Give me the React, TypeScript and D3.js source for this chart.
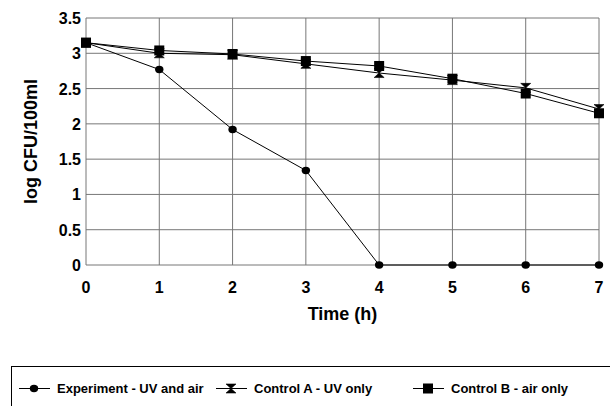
import React from 'react';
import * as d3 from 'd3';

const hours = [0, 1, 2, 3, 4, 5, 6, 7];
const experiment = [3.15, 2.77, 1.92, 1.34, 0, 0, 0, 0];
const controlA = [3.15, 3.0, 2.98, 2.85, 2.72, 2.62, 2.51, 2.21];
const controlB = [3.15, 3.04, 2.99, 2.89, 2.82, 2.64, 2.43, 2.15];
const yTicks = [0, 0.5, 1, 1.5, 2, 2.5, 3, 3.5];
const seriesNames = ['Experiment - UV and air', 'Control A - UV only', 'Control B - air only'];

const font = 'Arial, "Liberation Sans", sans-serif';

const Marker = ({ kind, x, y }: { kind: string; x: number; y: number }) => {
    if (kind === 'circle') return <ellipse cx={x} cy={y} rx={4.2} ry={3.7} fill="#000" />;
    if (kind === 'square') return <rect x={x - 5} y={y - 5} width={10} height={10} fill="#000" />;
    return (
        <path
            d={`M${x - 5},${y - 4.5} L${x + 5},${y - 4.5} L${x},${y} Z M${x - 5},${y + 4.5} L${x + 5},${y + 4.5} L${x},${y} Z`}
            fill="#000"
            stroke="#000"
            strokeWidth={0.6}
        />
    );
};

export default function App() {
    const margin = { left: 86, right: 11, top: 18, bottom: 141 };
    const W = 610, H = 406;

    const x = d3.scaleLinear().domain([0, 7]).range([margin.left, W - margin.right]);
    const y = d3.scaleLinear().domain([0, 3.5]).range([H - margin.bottom, margin.top]);

    const line = d3.line<number>()
        .x((_, i) => x(hours[i]))
        .y(d => y(d));

    const series = [
        { name: seriesNames[0], values: experiment, kind: 'circle' },
        { name: seriesNames[1], values: controlA, kind: 'hourglass' },
        { name: seriesNames[2], values: controlB, kind: 'square' },
    ];

    // legend entries are spaced evenly, like the original
    const legendStart = 19;
    const legendStep = 197;

    return (
        <svg width={W} height={H} style={{ position: 'absolute', left: 0, top: 0, background: '#fff' }} fontFamily={font}>
            {/* grid */}
            {yTicks.map(t => (
                <line key={'h' + t} x1={x(0)} x2={x(7)} y1={y(t)} y2={y(t)} stroke="#777" strokeWidth={1} />
            ))}
            {hours.map(h => (
                <line key={'v' + h} x1={x(h)} x2={x(h)} y1={y(0)} y2={y(3.5)} stroke="#777" strokeWidth={1} />
            ))}

            {/* ticks */}
            {yTicks.map(t => (
                <text key={'yt' + t} x={x(0) - 5} y={y(t) + 6} textAnchor="end" fontSize={16} fontWeight="bold">{t}</text>
            ))}
            {hours.map(h => (
                <text key={'xt' + h} x={x(h)} y={y(0) + 28} textAnchor="middle" fontSize={16} fontWeight="bold">{h}</text>
            ))}

            <text x={(x(0) + x(7)) / 2} y={320} textAnchor="middle" fontSize={18} fontWeight="bold">Time (h)</text>
            <text transform={`translate(37,${(y(0) + y(3.5)) / 2}) rotate(-90)`} textAnchor="middle" fontSize={18} fontWeight="bold">log CFU/100ml</text>

            {/* series */}
            {series.map(s => (
                <g key={s.name}>
                    <path d={line(s.values) || ''} fill="none" stroke="#000" strokeWidth={1} />
                    {s.values.map((v, i) => <Marker key={i} kind={s.kind} x={x(hours[i])} y={y(v)} />)}
                </g>
            ))}

            {/* legend */}
            <rect x={11.5} y={366.5} width={620} height={60} fill="none" stroke="#000" strokeWidth={1} />
            {series.map((s, i) => {
                const lx = legendStart + i * legendStep;
                return (
                    <g key={'lg' + s.name}>
                        <line x1={lx} x2={lx + 31} y1={388.5} y2={388.5} stroke="#000" strokeWidth={1} />
                        <Marker kind={s.kind} x={lx + 15} y={388.5} />
                        <text x={lx + 38} y={393} fontSize={13} fontWeight="bold">{s.name}</text>
                    </g>
                );
            })}
        </svg>
    );
}
